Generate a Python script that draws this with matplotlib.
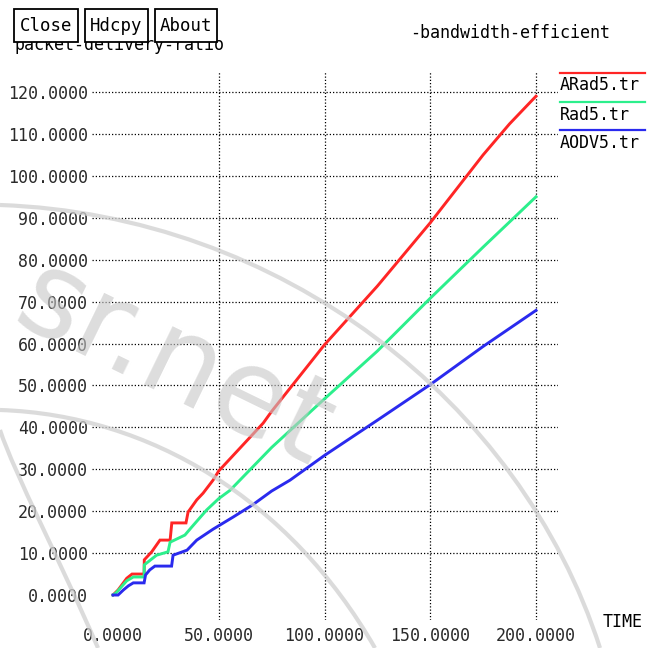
import matplotlib
matplotlib.use("Agg")
import matplotlib.pyplot as plt
from matplotlib.path import Path
import matplotlib.patches as patches

# data
time_arad = [0, 2.4, 6.5, 9, 14.7, 14.8, 18.3, 22.2, 27.0, 27.8, 34.5, 35.5, 39.6, 42.6, 47.3,
             50, 71, 75, 100, 125, 150, 175, 187.5, 200]
pdr_arad = [0, 1.2, 4.0, 5.0, 5.0, 8.4, 10.3, 13.1, 13.1, 17.2, 17.2, 19.8, 22.7, 24.3, 27.4,
            29.6, 41.0, 43.8, 59.7, 73.7, 88.8, 105.0, 112.4, 119.0]

time_rad = [0, 1.6, 6.5, 9.6, 14.7, 14.8, 20.6, 26.0, 27.0, 34.0, 37.2, 44.3, 50, 55.4, 60,
            75, 100, 125, 150, 175, 200]
pdr_rad = [0, 0.6, 3.4, 4.3, 4.3, 7.2, 9.5, 10.3, 12.6, 14.3, 16.2, 20.3, 23.0, 25.0, 27.4,
           35.2, 46.8, 58.2, 70.8, 83.0, 95.0]

time_aodv = [0, 2.4, 4.9, 7.3, 9.6, 14.7, 15.4, 17.4, 19.8, 27.7, 28.4, 35, 39.6, 47.3, 56.8,
             66, 75, 83.7, 100, 125, 150, 175, 200]
pdr_aodv = [0, 0, 1.2, 2.2, 2.9, 2.9, 4.8, 6.0, 6.9, 6.9, 9.5, 10.7, 13.1, 15.7, 18.6,
            21.5, 24.8, 27.4, 33.3, 41.7, 50.2, 59.3, 67.9]

series_names = ["ARad5.tr", "Rad5.tr", "AODV5.tr"]
series_colors = ["#ff2525", "#2cef8c", "#2a2aee"]

x_ticks = [0, 50, 100, 150, 200]
y_ticks = [0, 10, 20, 30, 40, 50, 60, 70, 80, 90, 100, 110, 120]

W, H = 657, 648
MONO = "DejaVu Sans Mono"

fig = plt.figure(figsize=(W / 100, H / 100), dpi=100)
ax = fig.add_axes([92 / W, 1 - 620 / H, (558 - 92) / W, (620 - 72) / H])
ax.set_xlim(-9.93, 210.4)
ax.set_ylim(-5.96, 124.77)
for s in ax.spines.values():
    s.set_visible(False)

ax.set_xticks(x_ticks)
ax.set_xticklabels(["%.4f" % v for v in x_ticks], family=MONO, fontsize=12, color="#2a2a2a")
ax.set_yticks(y_ticks)
ax.set_yticklabels(["%.4f" % v for v in y_ticks], family=MONO, fontsize=12, color="#2a2a2a")
ax.tick_params(axis="x", length=0, pad=5)
ax.tick_params(axis="y", length=0, pad=3)

# dotted grid, xgraph skips the zero lines
for v in y_ticks[1:]:
    ax.axhline(v, color="black", lw=0.9, ls=(0, (1, 1.6)), zorder=1)
for v in x_ticks[1:]:
    ax.axvline(v, color="black", lw=0.9, ls=(0, (1, 1.6)), zorder=1)

xs = [time_arad, time_rad, time_aodv]
ys = [pdr_arad, pdr_rad, pdr_aodv]
for x, y, c in zip(xs, ys, series_colors):
    ax.plot(x, y, color=c, lw=2.1, zorder=3, solid_joinstyle="miter")

# overlay in pixel coords for window decorations, legend, watermark
ov = fig.add_axes([0, 0, 1, 1])
ov.set_xlim(0, W)
ov.set_ylim(H, 0)
ov.axis("off")
ov.patch.set_alpha(0)

ov.text(15, 45, "packet-delivery-ratio", family=MONO, fontsize=12, va="center", ha="left")
ov.text(410, 33, "-bandwidth-efficient", family=MONO, fontsize=12, va="center", ha="left")
ov.text(603, 622, "TIME", family=MONO, fontsize=12, va="center", ha="left")

leg_y = [72.5, 102, 130]
for name, c, ly in zip(series_names, series_colors, leg_y):
    ov.plot([560, 645], [ly, ly], color=c, lw=1.6)
    ov.text(560, ly + 12.5, name, family=MONO, fontsize=12, va="center", ha="left")

# watermark
ov.text(174, 366, "sr.net", family="DejaVu Sans", fontsize=86, rotation=-26,
        color="#c6c6c6", alpha=0.6, ha="center", va="center", rotation_mode="anchor", zorder=6)
arcs = [
    [(0, 205), (280, 215), (520, 400), (600, 648)],
    [(0, 410), (150, 415), (290, 500), (375, 648)],
    [(0, 430), (15, 475), (60, 560), (98, 648)],
]
codes = [Path.MOVETO, Path.CURVE4, Path.CURVE4, Path.CURVE4]
for pts in arcs:
    ov.add_patch(patches.PathPatch(Path(pts, codes), fc="none", ec="#d0d0d0",
                                   lw=3.0, alpha=0.75, zorder=6))

# xgraph buttons on top
buttons = [("Close", 14, 78), ("Hdcpy", 85, 148), ("About", 155, 217)]
for label, x0, x1 in buttons:
    ov.add_patch(patches.Rectangle((x0, 9), x1 - x0, 33, fc="white", ec="black", lw=1.3, zorder=8))
    ov.text((x0 + x1) / 2, 26, label, family=MONO, fontsize=12.5, ha="center", va="center", zorder=9)

fig.savefig("out.png", dpi=100)
